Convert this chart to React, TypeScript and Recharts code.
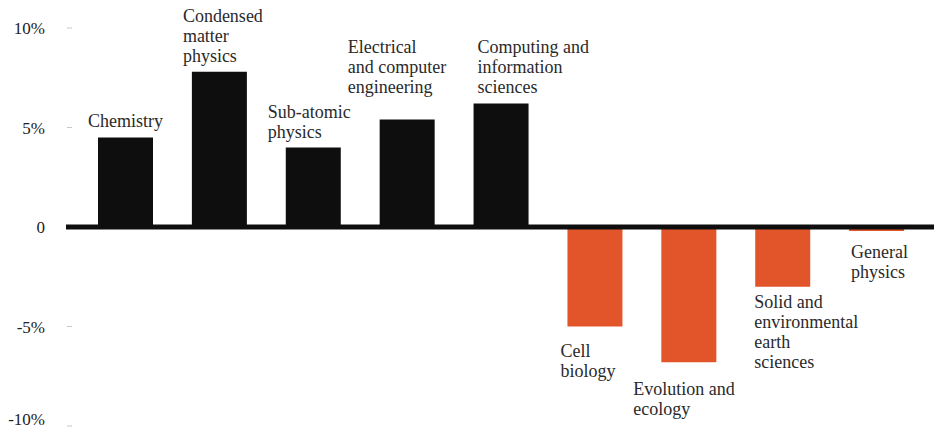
import React from 'react';
import { BarChart, Bar, XAxis, YAxis, ReferenceLine, Cell, LabelList } from 'recharts';

const categories = [
  'Chemistry',
  'Condensed matter physics',
  'Sub-atomic physics',
  'Electrical and computer engineering',
  'Computing and information sciences',
  'Cell biology',
  'Evolution and ecology',
  'Solid and environmental earth sciences',
  'General physics',
];

const labelLines = [
  ['Chemistry'],
  ['Condensed', 'matter', 'physics'],
  ['Sub-atomic', 'physics'],
  ['Electrical', 'and computer', 'engineering'],
  ['Computing and', 'information', 'sciences'],
  ['Cell', 'biology'],
  ['Evolution and', 'ecology'],
  ['Solid and', 'environmental', 'earth', 'sciences'],
  ['General', 'physics'],
];

const changes = [4.5, 7.8, 4.0, 5.4, 6.2, -5.0, -6.8, -3.0, -0.2];

const yTicks = [-10, -5, 0, 5, 10];

const data = categories.map((c, i) => ({ category: c, change: changes[i] }));

// label layout (styling): horizontal offset from bar left, gap from bar end to nearest baseline
const LABEL_DX = [-10, -9, -18, -32, 4, -7, -28, -1, 2];
const LABEL_GAP = [10, 10, 9, 27, 11, 30, 33, 21, 27];
const LINE_H = 20;
const FONT = '"Liberation Serif", "Times New Roman", serif';

const renderLabel = (props: any) => {
  const { x, y, height, index, value } = props;
  const lines = labelLines[index] || [];
  const top = Math.min(y, y + height);
  const bottom = Math.max(y, y + height);
  const left = x + LABEL_DX[index];
  const first =
    value >= 0
      ? top - LABEL_GAP[index] - (lines.length - 1) * LINE_H
      : bottom + LABEL_GAP[index];
  return (
    <text
      key={`lbl-${index}`}
      x={left}
      y={first}
      fill="#2a2a2a"
      fontSize={18}
      fontFamily={FONT}
      textAnchor="start"
    >
      {lines.map((l, k) => (
        <tspan key={k} x={left} y={first + k * LINE_H}>
          {l}
        </tspan>
      ))}
    </text>
  );
};

const YTick = (props: any) => {
  const { x, y, payload } = props;
  const v = payload.value;
  const label = v === 0 ? '0' : `${v}%`;
  return (
    <g>
      <text
        x={x - 21}
        y={y}
        dy={v === -10 ? -1 : 6}
        textAnchor="end"
        fill="#222"
        fontSize={17}
        fontFamily={FONT}
      >
        {label}
      </text>
      {v !== 0 && <line x1={x + 1} x2={x + 6} y1={y} y2={y} stroke="#c8c8c8" strokeWidth={1} />}
    </g>
  );
};

export default function App() {
  return (
    <div style={{ position: 'absolute', left: 0, top: 0, width: 934, height: 431, background: '#fff' }}>
      <BarChart
        width={934}
        height={431}
        data={data}
        margin={{ top: 28, right: 0, bottom: 5, left: 0 }}
      >
        <XAxis dataKey="category" hide padding={{ left: 13, right: 10 }} />
        <YAxis
          width={66}
          domain={[-10, 10]}
          ticks={yTicks}
          axisLine={false}
          tickLine={false}
          tickSize={0}
          tickMargin={0}
          tick={<YTick />}
          interval={0}
        />
        <Bar dataKey="change" barSize={55} isAnimationActive={false}>
          {data.map((d, i) => (
            <Cell key={i} fill={d.change >= 0 ? '#0e0e0e' : '#e2552b'} />
          ))}
          <LabelList dataKey="change" content={renderLabel} />
        </Bar>
        <ReferenceLine y={0} stroke="#0e0e0e" strokeWidth={5} />
      </BarChart>
    </div>
  );
}
